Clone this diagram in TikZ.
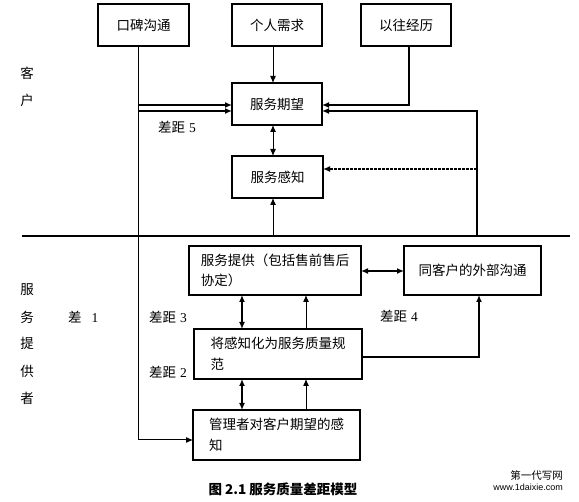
\documentclass[tikz,border=0pt]{standalone}
\usepackage{fontspec}
\setmainfont{Liberation Serif}
\newfontfamily\cjk{Noto Sans CJK SC}
\newfontfamily\wmfont{Liberation Sans}
\newcommand\zhtxt[1]{{\cjk #1}}
\usetikzlibrary{arrows.meta,calc}
\begin{document}
\begin{tikzpicture}[x=1pt,y=-1pt,
  box/.style={draw,line width=1.2pt,inner sep=0pt,outer sep=0pt,
    font=\cjk\fontsize{13.5}{20.5}\selectfont,align=left},
  conn/.style={line width=1pt,-{Latex[length=7pt,width=6pt]}},
  thickconn/.style={line width=1.6pt,-{Latex[length=7pt,width=6pt]}},
  both/.style={line width=1pt,{Latex[length=7pt,width=6pt]}-{Latex[length=7pt,width=6pt]}},
  dashconn/.style={line width=1.5pt,dash pattern=on 3pt off 1pt,-{Latex[length=7pt,width=6pt]}},
  lbl/.style={inner sep=0pt,font=\fontsize{13.5}{16}\selectfont},
  side/.style={inner sep=0pt,font=\cjk\fontsize{13.5}{16}\selectfont}]
\useasboundingbox (0,0) rectangle (579,502);

% boxes
\node[box,minimum width=91pt,minimum height=42pt] (kb) at (143.5,25) {口碑沟通};
\node[box,minimum width=90pt,minimum height=42pt] (gr) at (277,25) {个人需求};
\node[box,minimum width=90pt,minimum height=42pt] (yw) at (406,25) {以往经历};
\node[box,minimum width=90pt,minimum height=42pt] (qw) at (277,104) {服务期望};
\node[box,minimum width=91pt,minimum height=42pt] (gz) at (277.5,177) {服务感知};
\node[box,minimum width=172pt,minimum height=49pt] (tg) at (275,270.5) {服务提供（包括售前售后\\协定）};
\node[box,minimum width=137pt,minimum height=49pt] (wb) at (472.5,270.5) {同客户的外部沟通};
\node[box,minimum width=168pt,minimum height=50pt] (gf) at (278,354) {将感知化为服务质量规\\范};
\node[box,minimum width=167pt,minimum height=50pt] (gl) at (276.5,435) {管理者对客户期望的感\\知};

% helper coordinates
\coordinate (xa) at (138,0);
\coordinate (xb) at (273,0);
\coordinate (xc) at (409,0);
\coordinate (xd) at (477,0);
\coordinate (xe) at (242,0);
\coordinate (xf) at (306,0);
\coordinate (xg) at (479,0);
\coordinate (ya) at (0,105);
\coordinate (yb) at (0,111);
\coordinate (ydash) at (0,169);
\coordinate (ysep) at (0,236);
\coordinate (ymid) at (0,271);
\coordinate (yr) at (0,357);
\coordinate (yl) at (0,440);
\coordinate (sl) at (22,236);
\coordinate (sr) at (570,236);

% separator
\draw[line width=1.8pt] (sl) -- (sr);

% connectors (customer part)
\draw[conn] (kb.south -| xa) -- (xa |- yl) -- (gl.west |- yl);
\draw[thickconn] (xa |- ya) -- (qw.west |- ya);
\draw[thickconn] (xa |- yb) -- (qw.west |- yb);
\draw[conn] (gr.south -| xb) -- (qw.north -| xb);
\draw[thickconn] (yw.south -| xc) -- (xc |- ya) -- (qw.east |- ya);
\draw[thickconn] (xd |- ysep) -- (xd |- yb) -- (qw.east |- yb);
\draw[dashconn] (xd |- ydash) -- (gz.east |- ydash);
\draw[both] (qw.south -| xb) -- (gz.north -| xb);
\draw[conn] (xb |- ysep) -- (gz.south -| xb);

% connectors (provider part)
\draw[both,line width=1.4pt] (tg.east |- ymid) -- (wb.west |- ymid);
\draw[both,line width=1.4pt] (tg.south -| xe) -- (gf.north -| xe);
\draw[conn] (gf.north -| xf) -- (tg.south -| xf);
\draw[both,line width=1.4pt] (gf.south -| xe) -- (gl.north -| xe);
\draw[conn] (gl.north -| xf) -- (gf.south -| xf);
\draw[thickconn] (gf.east |- yr) -- (xg |- yr) -- (wb.south -| xg);

% side labels
\node[side] (k1) at (27,73) {客};
\node[side] (k2) at (27,100) {户};
\node[side] (f1) at (27,290) {服};
\node[side] (f2) at (27,317) {务};
\node[side] (f3) at (27,343) {提};
\node[side] (f4) at (27,371) {供};
\node[side] (f5) at (27,398) {者};

% gap labels
\node[lbl,anchor=west] (g1) at (68,317) {\zhtxt{差}\hspace{10pt}1};
\node[lbl,anchor=west] (g3) at (149,317) {\zhtxt{差距}\hspace{4pt}3};
\node[lbl,anchor=west] (g4) at (380,316) {\zhtxt{差距}\hspace{4pt}4};
\node[lbl,anchor=west] (g2) at (149,372) {\zhtxt{差距}\hspace{4pt}2};
\node[lbl,anchor=west] (g5) at (158,127) {\zhtxt{差距}\hspace{4pt}5};

% caption
\node[inner sep=0pt,font=\cjk\bfseries\fontsize{13.5}{16}\selectfont] (cap) at (283,489) {图 2.1 服务质量差距模型};

% watermark
\node[inner sep=0pt,anchor=east,font=\cjk\fontsize{10.5}{12}\selectfont] (w1) at (563,475) {第一代写网};
\node[inner sep=0pt,anchor=east,font=\wmfont\fontsize{9}{10}\selectfont] (w2) at (563,487) {www.1daixie.com};
\end{tikzpicture}
\end{document}
